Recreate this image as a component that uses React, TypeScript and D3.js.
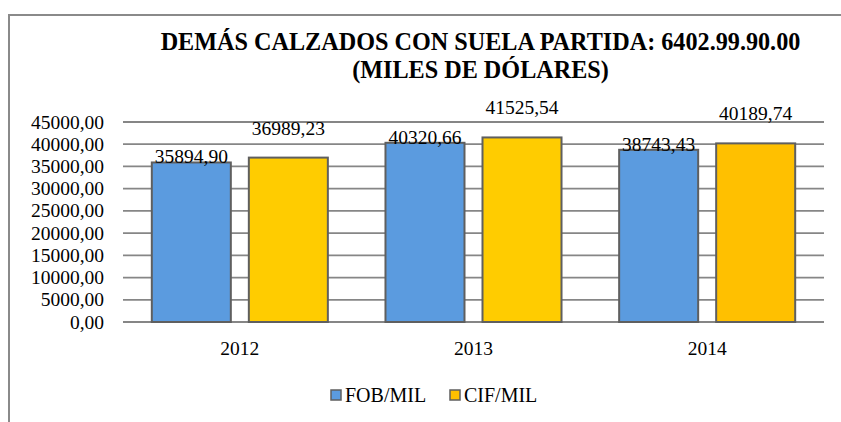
import React from "react";
import * as d3 from "d3";

const years = ["2012", "2013", "2014"];
const fobValues = [35894.9, 40320.66, 38743.43];
const cifValues = [36989.23, 41525.54, 40189.74];
const yTicks = [0, 5000, 10000, 15000, 20000, 25000, 30000, 35000, 40000, 45000];
const seriesNames = ["FOB/MIL", "CIF/MIL"];

const W = 841;
const H = 422;
const FONT = "Liberation Serif, Times New Roman, Times, DejaVu Serif, serif";
const FOB_COLOR = "#5B9BDF";
const CIF_COLORS = ["#FFCC00", "#FFCC00", "#FFC000"];
const LEGEND_CIF = "#FFC000";
const GRID = "#868686";
const BAR_STROKE = "#5f5f5f";

const locale = d3.formatLocale({ decimal: ",", thousands: "", grouping: [3], currency: ["", ""] });
const fmt = locale.format(".2f");

const txt = { fontFamily: FONT } as React.CSSProperties;

export default function App() {
  const x = d3.scaleBand<string>().domain(years).range([123, 824]).paddingInner(0).paddingOuter(0);
  const sub = d3
    .scaleBand<string>()
    .domain(seriesNames)
    .range([0, x.bandwidth()])
    .paddingInner(0.1856)
    .paddingOuter(0.297);
  const y = d3.scaleLinear().domain([0, 45000]).range([322, 122]);

  return (
    <svg
      width={W}
      height={H}
      style={{ position: "fixed", left: 0, top: 0, background: "#fff", fontFamily: FONT }}
    >
      <rect x={0} y={0} width={W} height={H} fill="#fff" />
      {/* outer frame */}
      <path d={`M9,${H + 5} V15 H${W + 5}`} fill="none" stroke="#8a8a8a" strokeWidth={2} />

      {/* title */}
      <text x={480.5} y={50} textAnchor="middle" fontWeight="bold" fontSize={24.2} fill="#000" style={txt}>
        DEMÁS CALZADOS CON SUELA PARTIDA: 6402.99.90.00
      </text>
      <text x={480.5} y={78} textAnchor="middle" fontWeight="bold" fontSize={24.2} fill="#000" style={txt}>
        (MILES DE DÓLARES)
      </text>

      {/* gridlines */}
      {yTicks.map((t) => (
        <line key={t} x1={123} x2={824} y1={y(t)} y2={y(t)} stroke={GRID} strokeWidth={1.8} />
      ))}
      {/* y tick labels */}
      {yTicks.map((t) => (
        <text key={"l" + t} x={104} y={y(t) + 6.5} textAnchor="end" fontSize={19.5} fill="#000" style={txt}>
          {fmt(t)}
        </text>
      ))}

      {/* bars */}
      {years.map((yr, i) => {
        const x0 = x(yr)!;
        const fx = x0 + sub("FOB/MIL")!;
        const cx = x0 + sub("CIF/MIL")!;
        const bw = sub.bandwidth();
        return (
          <g key={yr}>
            <rect
              x={fx}
              y={y(fobValues[i])}
              width={bw}
              height={y(0) - y(fobValues[i])}
              fill={FOB_COLOR}
              stroke={BAR_STROKE}
              strokeWidth={2}
            />
            <rect
              x={cx}
              y={y(cifValues[i])}
              width={bw}
              height={y(0) - y(cifValues[i])}
              fill={CIF_COLORS[i]}
              stroke={BAR_STROKE}
              strokeWidth={2}
            />
            <text x={fx + bw / 2} y={y(fobValues[i]) + 1} textAnchor="middle" fontSize={19.5} fill="#000" style={txt}>
              {fmt(fobValues[i])}
            </text>
            <text x={cx + bw / 2} y={y(cifValues[i]) - 23} textAnchor="middle" fontSize={19.5} fill="#000" style={txt}>
              {fmt(cifValues[i])}
            </text>
            <text x={x0 + x.bandwidth() / 2} y={355} textAnchor="middle" fontSize={19.5} fill="#000" style={txt}>
              {yr}
            </text>
          </g>
        );
      })}

      {/* legend */}
      <g>
        <rect x={331} y={390} width={10} height={10} fill={FOB_COLOR} stroke={BAR_STROKE} strokeWidth={1.5} />
        <text x={345} y={402} fontSize={20} fill="#000" style={txt}>
          {seriesNames[0]}
        </text>
        <rect x={450} y={390} width={10} height={10} fill={LEGEND_CIF} stroke={BAR_STROKE} strokeWidth={1.5} />
        <text x={464} y={402} fontSize={20} fill="#000" style={txt}>
          {seriesNames[1]}
        </text>
      </g>
    </svg>
  );
}
